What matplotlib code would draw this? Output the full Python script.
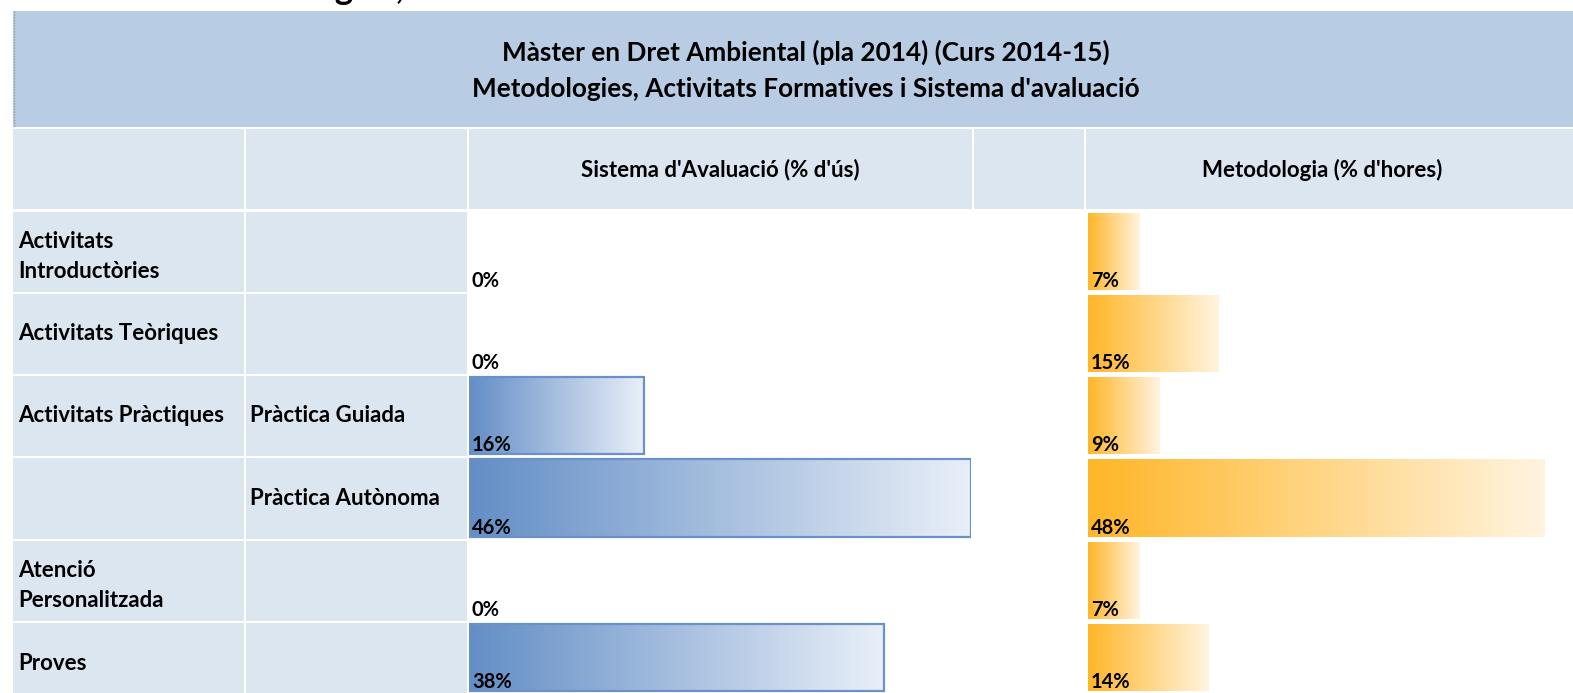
import numpy as np
import matplotlib
matplotlib.use("Agg")
import matplotlib.pyplot as plt
from matplotlib.patches import Rectangle
from matplotlib.colors import LinearSegmentedColormap

groups = ["Activitats\nIntroductòries", "Activitats Teòriques", "Activitats Pràctiques",
          "", "Atenció\nPersonalitzada", "Proves"]
subgroups = ["", "", "Pràctica Guiada", "Pràctica Autònoma", "", ""]
avaluacio = [0, 0, 16, 46, 0, 38]      # Sistema d'Avaluació (% d'ús)
metodologia = [7, 15, 9, 48, 7, 14]    # Metodologia (% d'hores)

title_lines = ["Màster en Dret Ambiental (pla 2014) (Curs 2014-15)",
               "Metodologies, Activitats Formatives i Sistema d'avaluació"]
col_titles = ["Sistema d'Avaluació (% d'ús)", "Metodologia (% d'hores)"]
caption = "Gràfic 4.4. Metodologies, activitats formatives i sistemes d'avaluació"

FONT = ['Lato', 'DejaVu Sans']
BAND = '#B8CCE4'
CELL = '#DCE6F1'

W, H = 1573, 693
fig = plt.figure(figsize=(W / 100, H / 100), dpi=100)

# background layer in pixel coordinates (table cells only)
bg = fig.add_axes([0, 0, 1, 1])
bg.set_xlim(0, W)
bg.set_ylim(H, 0)
bg.axis('off')

# caption, cut off at the very top of the screenshot
bg.text(15, -0.8, caption, family=FONT, fontweight='bold', fontsize=25,
        va='baseline', ha='left', color='black')

# title band
bg.add_patch(Rectangle((13, 11), W - 13, 116, color=BAND, lw=0))
bg.plot([13.5, 13.5], [11, 127], color='#9a9a9a', lw=1, ls=(0, (1, 1)))
bg.text(806, 52, title_lines[0], family=FONT, fontweight='bold', fontsize=18.8,
        ha='center', va='center')
bg.text(806, 89, title_lines[1], family=FONT, fontweight='bold', fontsize=18.8,
        ha='center', va='center')

# column header row
cols = [(13, 244), (246, 467), (469, 972), (974, 1084), (1086, W)]
for x0, x1 in cols:
    bg.add_patch(Rectangle((x0, 129), x1 - x0, 80, color=CELL, lw=0))
bg.text(720, 170, col_titles[0], family=FONT, fontweight='bold', fontsize=16,
        ha='center', va='center')
bg.text(1322, 170, col_titles[1], family=FONT, fontweight='bold', fontsize=16,
        ha='center', va='center')

# data rows (the last one is cut by the screenshot edge)
row_tops = [212, 294, 376, 458, 541, 623]
row_bots = [292, 374, 456, 539, 621, H]
for i in range(len(groups)):
    y0, y1 = row_tops[i], row_bots[i]
    for x0, x1 in cols[:2]:
        bg.add_patch(Rectangle((x0, y0), x1 - x0, y1 - y0, color=CELL, lw=0))
    yc = (y0 + y1) / 2 if i < len(groups) - 1 else y0 + 40
    if "\n" in groups[i]:
        yc += 4.5
    bg.text(18, yc, groups[i], family=FONT, fontweight='bold', fontsize=16,
            ha='left', va='center', linespacing=1.55)
    bg.text(250, yc, subgroups[i], family=FONT, fontweight='bold', fontsize=16,
            ha='left', va='center')


def gradient_bars(ax, values, lo, c_from, c_to, edge=None):
    cmap = LinearSegmentedColormap.from_list('g', [c_from, c_to])
    grad = np.linspace(0, 1, 256).reshape(1, -1)
    for i, v in enumerate(values):
        top = row_tops[i] + 1
        bot = min(row_bots[i] - 2, H - 2)
        if v > 0:
            ax.imshow(grad, cmap=cmap, aspect='auto', interpolation='bicubic',
                      extent=(lo, v, bot, top), zorder=1)
            if edge:
                ax.barh((top + bot) / 2, v - lo, left=lo, height=bot - top,
                        fill=False, edgecolor=edge, lw=1.6, zorder=2)
        ax.annotate(f"{v}%", xy=(lo, bot), xytext=(3, 3),
                    textcoords='offset pixels', family=FONT, fontweight='bold',
                    fontsize=14.5, ha='left', va='baseline', zorder=3)
    ax.set_xlim(lo, max(values))
    ax.set_ylim(H, 0)
    ax.axis('off')


def bar_axes(x0, x1):
    return fig.add_axes([x0 / W, 0, (x1 - x0) / W, 1])


ax_ev = bar_axes(469, 971)
gradient_bars(ax_ev, avaluacio, 0, '#638EC6', '#E9EFF8', edge='#6A92C9')

# Excel-style data bars: the shortest bar keeps a minimum length
ax_met = bar_axes(1088, 1545)
gradient_bars(ax_met, metodologia, 1.8, '#FFB628', '#FFF4E0')

fig.savefig('out.png', dpi=100)
